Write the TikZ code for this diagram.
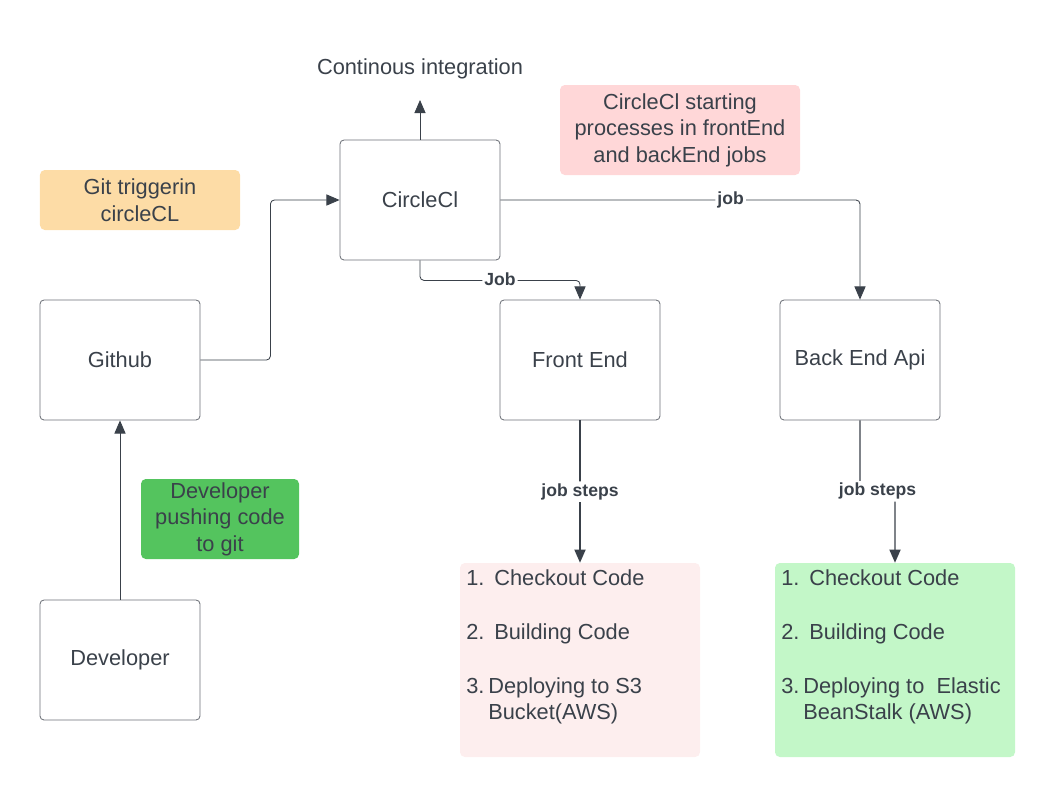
\documentclass[tikz,border=0pt]{standalone}
\usepackage{fontspec}
\setmainfont{Liberation Sans}
\usetikzlibrary{arrows.meta}

\definecolor{ink}{HTML}{3A414A}
\definecolor{frame}{HTML}{6B6F76}
\definecolor{gitnote}{HTML}{FDDCA6}
\definecolor{devnote}{HTML}{54C45E}
\definecolor{cinote}{HTML}{FFD7D8}
\definecolor{frontsteps}{HTML}{FDEEEE}
\definecolor{backsteps}{HTML}{C3F7C8}

\begin{document}
\begin{tikzpicture}[x=0.25mm,y=-0.25mm,
    font=\fontsize{15.5}{18.8}\selectfont, text=ink,
    box/.style={draw=frame, line width=0.6pt, rounded corners=1mm, minimum width=40mm, minimum height=30mm},
    note/.style={rounded corners=1.2mm, inner sep=0pt, align=center},
    lbl/.style={fill=white, inner sep=1.5pt, font=\bfseries\fontsize{12.5}{14}\selectfont},
    conn/.style={draw=ink, line width=0.6pt, rounded corners=1mm, -{Triangle[length=3.3mm,width=2.8mm]}},
    item/.style={anchor=base west, inner sep=0pt}]
    \useasboundingbox (0,0) rectangle (1055,798);

    \node[box] (ci) at (420,200) {CircleCl};
    \node[box] (gh) at (120,360) {Github};
    \node[box] (dev) at (120,660) {Developer};
    \node[box] (fe) at (580,360) {Front End};
    \node[box] (be) at (860,360) {Back End Api};

    \node (ciname) at (420,69) {Continous integration};
    \coordinate (citop) at (420,100);

    \node[note, fill=gitnote, minimum width=50mm, minimum height=15mm] (gitn) at (140,200) {Git triggerin\\circleCL};
    \node[note, fill=devnote, minimum width=39.5mm, minimum height=20mm] (devn) at (220,519) {Developer\\pushing code\\to git};
    \node[note, fill=cinote, minimum width=60mm, minimum height=22.5mm] (cin) at (680,130) {CircleCl starting\\processes in frontEnd\\and backEnd jobs};

    \node[note, fill=frontsteps, minimum width=60mm, minimum height=48.5mm] (fs) at (580,660) {};
    \node[note, fill=backsteps, minimum width=60mm, minimum height=48.5mm] (bs) at (895,660) {};

    % front end steps
    \node[item] (fs1n) at (466,585) {1.};
    \node[item] (fs1) at (494,585) {Checkout Code};
    \node[item] (fs2n) at (466,639) {2.};
    \node[item] (fs2) at (494,639) {Building Code};
    \node[item] (fs3n) at (466,693) {3.};
    \node[item] (fs3) at (488,693) {Deploying to S3};
    \node[item] (fs3b) at (488,719) {Bucket(AWS)};

    % back end steps
    \node[item] (bs1n) at (781,585) {1.};
    \node[item] (bs1) at (809,585) {Checkout Code};
    \node[item] (bs2n) at (781,639) {2.};
    \node[item] (bs2) at (809,639) {Building Code};
    \node[item] (bs3n) at (781,693) {3.};
    \node[item] (bs3) at (803,693) {Deploying to\ \ Elastic};
    \node[item] (bs3b) at (803,719) {BeanStalk (AWS)};

    \draw[conn] (ci.north) -- (citop);
    \draw[conn] (dev) -- (gh);
    \draw[conn] (gh.east) -- ++(70,0) |- (ci.west);
    \draw[conn] (ci.south) -- ++(0,20) -| node[lbl, pos=0.25, yshift=0.4mm] {Job} (fe.north);
    \draw[conn] (ci.east) -| node[lbl, pos=0.32] {job} (be.north);
    \draw[conn, line width=1pt] (fe.south) -- node[lbl, pos=0.5] {job steps} (fs.north);
    \draw[conn, line width=1pt] (be.south) -- ++(0,71) -| node[lbl, pos=0.25] {job steps} (bs.north);
\end{tikzpicture}
\end{document}
